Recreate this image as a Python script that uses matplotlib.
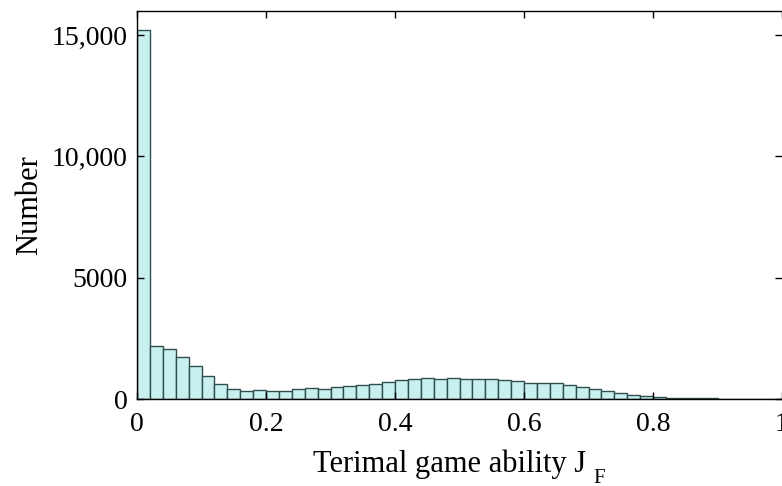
import numpy as np
import matplotlib
matplotlib.use("Agg")
import matplotlib.pyplot as plt

# ---- data ----
bin_edges = np.linspace(0.0, 1.0, 51)
counts = [15210, 2197, 2048, 1718, 1347, 961, 632, 398, 316, 357,
          343, 316, 398, 439, 398, 494, 536, 590, 632, 695,
          783, 824, 865, 824, 865, 824, 824, 824, 783, 742,
          672, 672, 672, 577, 494, 412, 330, 247, 151, 110,
          82, 55, 41, 41, 27, 20, 14, 10, 6, 5]
x_ticks = [0, 0.2, 0.4, 0.6, 0.8, 1.0]
x_tick_labels = ["0", "0.2", "0.4", "0.6", "0.8", "1"]
y_ticks = [0, 5000, 10000, 15000]
y_tick_labels = ["0", "5000", "10,000", "15,000"]

plt.rcParams['font.family'] = ['Liberation Serif', 'DejaVu Serif']

W, H = 782, 486
fig = plt.figure(figsize=(W / 100, H / 100), dpi=100)
ax = fig.add_axes([137 / W, (H - 399) / H, (782 - 137) / W, (399 - 11) / H])

centers = (bin_edges[:-1] + bin_edges[1:]) / 2
ax.hist(centers, bins=bin_edges, weights=counts,
        facecolor='#c8f0ef', edgecolor='#2f4f4f', linewidth=1.0)

ax.set_xlim(0, 1)
ax.set_ylim(0, 16000)
ax.set_xticks(x_ticks)
ax.set_xticklabels(x_tick_labels)
ax.set_yticks(y_ticks)
ax.set_yticklabels(y_tick_labels)

ax.tick_params(axis='both', which='major', direction='in', length=5, width=1,
               labelsize=20, top=True, right=True)
ax.tick_params(axis='y', pad=7)
ax.tick_params(axis='x', pad=9)
for s in ax.spines.values():
    s.set_linewidth(1.0)
ax.spines['right'].set_visible(False)

ax.set_ylabel('Number', fontsize=22, labelpad=5)

fig.text(313 / W, (H - 471.5) / H, 'Terimal game ability J', fontsize=22,
         ha='left', va='baseline')
fig.text(593 / W, (H - 482.5) / H, 'F', fontsize=15, ha='left', va='baseline')

fig.savefig('out.png', dpi=100)
